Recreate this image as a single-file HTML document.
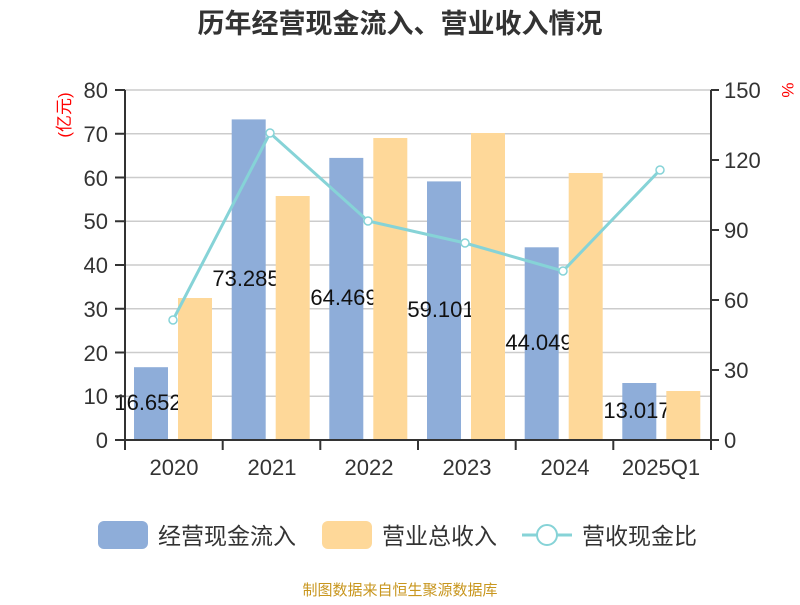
<!DOCTYPE html>
<html><head><meta charset="utf-8"><style>body{margin:0;background:#fff}</style></head><body>
<svg width="800" height="600" xmlns="http://www.w3.org/2000/svg" font-family="'Liberation Sans','Noto Sans CJK SC',sans-serif">
<text x="400" y="33" text-anchor="middle" font-size="27" font-weight="bold" fill="#333">历年经营现金流入、营业收入情况</text>
<g stroke="#ccc" stroke-width="1.5">
<line x1="125" x2="711" y1="90" y2="90"/><line x1="125" x2="711" y1="133.75" y2="133.75"/><line x1="125" x2="711" y1="177.5" y2="177.5"/><line x1="125" x2="711" y1="221.25" y2="221.25"/><line x1="125" x2="711" y1="265" y2="265"/><line x1="125" x2="711" y1="308.75" y2="308.75"/><line x1="125" x2="711" y1="352.5" y2="352.5"/><line x1="125" x2="711" y1="396.25" y2="396.25"/>
</g>
<g font-size="22" fill="#333" text-anchor="end">
<text x="108" y="98">80</text><text x="108" y="142">70</text><text x="108" y="186">60</text><text x="108" y="229">50</text><text x="108" y="273">40</text><text x="108" y="317">30</text><text x="108" y="361">20</text><text x="108" y="404">10</text><text x="108" y="448">0</text>
</g>
<g font-size="22" fill="#333">
<text x="724" y="98">150</text><text x="724" y="168">120</text><text x="724" y="238">90</text><text x="724" y="308">60</text><text x="724" y="378">30</text><text x="724" y="448">0</text>
</g>
<text transform="translate(70,115) rotate(-90)" text-anchor="middle" font-size="17" fill="#f00">(亿元)</text>
<text transform="translate(782,90) rotate(90)" text-anchor="middle" font-size="17" fill="#f00">%</text>
<g fill="#8eadd9">
<rect x="134" y="367.2" width="34" height="72.8"/>
<rect x="231.7" y="119.4" width="34" height="320.6"/>
<rect x="329.3" y="157.9" width="34" height="282.1"/>
<rect x="427" y="181.4" width="34" height="258.6"/>
<rect x="524.7" y="247.3" width="34" height="192.7"/>
<rect x="622.3" y="383" width="34" height="57"/>
</g>
<g font-size="22" fill="#111" text-anchor="middle">
<text x="148" y="410">16.652</text>
<text x="246" y="286">73.285</text>
<text x="344" y="305">64.469</text>
<text x="441" y="317">59.101</text>
<text x="539" y="350">44.049</text>
<text x="637" y="418">13.017</text>
</g>
<g fill="#fed899">
<rect x="178" y="298" width="34" height="142"/>
<rect x="275.7" y="196" width="34" height="244"/>
<rect x="373.3" y="138" width="34" height="302"/>
<rect x="471" y="133" width="34" height="307"/>
<rect x="568.7" y="173" width="34" height="267"/>
<rect x="666.3" y="391" width="34" height="49"/>
</g>
<g stroke="#333" stroke-width="2" fill="none">
<line x1="125" y1="90" x2="125" y2="440"/><line x1="711" y1="90" x2="711" y2="440"/><line x1="125" y1="440" x2="711" y2="440"/>
<path d="M115 90H125M115 133.75H125M115 177.5H125M115 221.25H125M115 265H125M115 308.75H125M115 352.5H125M115 396.25H125M115 440H125"/>
<path d="M711 90H719M711 160H719M711 230H719M711 300H719M711 370H719M711 440H719"/>
<path d="M125 440V450M222.7 440V450M320.3 440V450M418 440V450M515.7 440V450M613.3 440V450M711 440V450"/>
</g>
<g font-size="22" fill="#333" text-anchor="middle">
<text x="174" y="475">2020</text><text x="272" y="475">2021</text><text x="369" y="475">2022</text><text x="467" y="475">2023</text><text x="565" y="475">2024</text><text x="661" y="475">2025Q1</text>
</g>
<polyline points="173,320 270,133 368,221 465,243 563,271 660,170" fill="none" stroke="#86d3d7" stroke-width="3"/>
<g fill="#fff" stroke="#86d3d7" stroke-width="1.5">
<circle cx="173" cy="320" r="4"/><circle cx="270" cy="133" r="4"/><circle cx="368" cy="221" r="4"/><circle cx="465" cy="243" r="4"/><circle cx="563" cy="271" r="4"/><circle cx="660" cy="170" r="4"/>
</g>
<rect x="98" y="521" width="50" height="28" rx="6" fill="#8eadd9"/>
<text x="158" y="544" font-size="23" fill="#333">经营现金流入</text>
<rect x="322" y="521" width="50" height="28" rx="6" fill="#fed899"/>
<text x="382" y="544" font-size="23" fill="#333">营业总收入</text>
<line x1="522" y1="535" x2="572" y2="535" stroke="#86d3d7" stroke-width="3"/>
<circle cx="547" cy="535" r="10" fill="#fff" stroke="#86d3d7" stroke-width="2"/>
<text x="582" y="544" font-size="23" fill="#333">营收现金比</text>
<text x="400" y="595" text-anchor="middle" font-size="15" fill="#c8961e">制图数据来自恒生聚源数据库</text>
</svg>
</body></html>
